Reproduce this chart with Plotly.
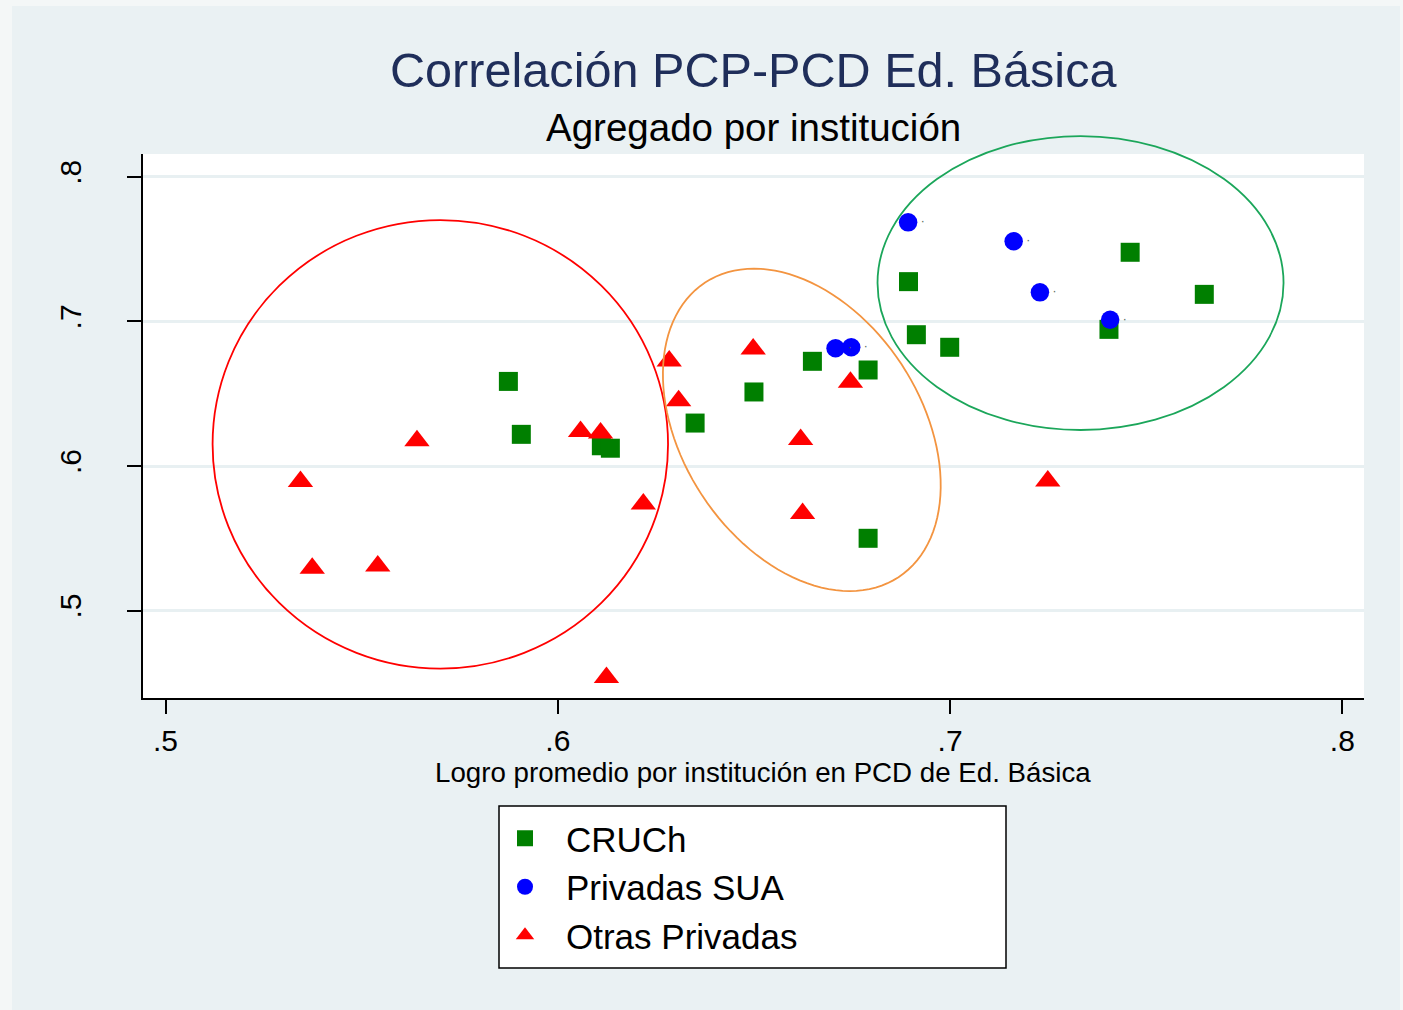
import numpy as np
import plotly.graph_objects as go

# ---------------- data ----------------
cruch_x = [0.5874, 0.5907, 0.6111, 0.6134, 0.6350, 0.6500, 0.6649, 0.6791, 0.6791,
           0.6894, 0.6914, 0.6999, 0.7405, 0.7459, 0.7648]
cruch_y = [0.6585, 0.6219, 0.6140, 0.6123, 0.6297, 0.6512, 0.6724, 0.6664, 0.5500,
           0.7275, 0.6908, 0.6821, 0.6945, 0.7478, 0.7187]

sua_x = [0.6893, 0.7162, 0.7229, 0.7408, 0.6708, 0.6748]
sua_y = [0.7685, 0.7554, 0.7201, 0.7012, 0.6814, 0.6821]

otras_x = [0.5344, 0.5374, 0.5541, 0.5641, 0.6058, 0.6109, 0.6218, 0.6124, 0.6284,
           0.6308, 0.6498, 0.6746, 0.6619, 0.6624, 0.7249]
otras_y = [0.5893, 0.5293, 0.5308, 0.6174, 0.6239, 0.6229, 0.5738, 0.4537, 0.6726,
           0.6452, 0.6810, 0.6580, 0.6183, 0.5671, 0.5897]

x_ticks = [0.5, 0.6, 0.7, 0.8]
x_tick_labels = [".5", ".6", ".7", ".8"]
y_ticks = [0.5, 0.6, 0.7, 0.8]
y_tick_labels = [".5", ".6", ".7", ".8"]

series_names = ["CRUCh", "Privadas SUA", "Otras Privadas"]

title_text = "Correlación PCP-PCD Ed. Básica"
subtitle_text = "Agregado por institución"
x_title_text = "Logro promedio por institución en PCD de Ed. Básica"

# ---------------- layout geometry ----------------
W, H = 1403, 1010
ML, MR, MT, MB = 143, 39, 154, 312
X_RANGE = [0.49426, 0.80551]
Y_RANGE = [0.43956, 0.81577]

FONT = "Liberation Sans, Arial, sans-serif"
BG = "#EAF1F3"
OUTER = "#F4F7F7"


def dx(v):
    return (v - X_RANGE[0]) / (X_RANGE[1] - X_RANGE[0])


def dy(v):
    return (v - Y_RANGE[0]) / (Y_RANGE[1] - Y_RANGE[0])


def pxx(p):
    return (p - ML) / (W - ML - MR)


def pxy(p):
    return (H - MB - p) / (H - MT - MB)


fig = go.Figure()

fig.add_trace(go.Scatter(
    x=cruch_x, y=cruch_y, mode="markers", name=series_names[0],
    marker=dict(symbol="square", size=19, color="#007F00", line=dict(width=0)),
))
fig.add_trace(go.Scatter(
    x=sua_x, y=sua_y, mode="markers+text", name=series_names[1],
    text=["·"] * len(sua_x), textposition="middle right",
    textfont=dict(size=12, color="#556655", family=FONT),
    marker=dict(symbol="circle", size=18.5, color="#0000FF", line=dict(width=0)),
))
fig.add_trace(go.Scatter(
    x=otras_x, y=otras_y, mode="markers", name=series_names[2],
    marker=dict(symbol="triangle-up", size=22, color="#FF0000", line=dict(width=0)),
))

shapes = []
# outer chart background panel
shapes.append(dict(type="rect", xref="paper", yref="paper", layer="below",
                   x0=pxx(12), x1=pxx(1400), y0=pxy(6), y1=pxy(1012),
                   fillcolor=BG, line=dict(width=0)))
# white plot region
shapes.append(dict(type="rect", xref="paper", yref="paper", layer="below",
                   x0=0, x1=1, y0=0, y1=1, fillcolor="white", line=dict(width=0)))

# red circle (data-unit bounds)
red_box = (0.5120, 0.6281, 0.4599, 0.7701)
shapes.append(dict(type="circle", xref="paper", yref="paper", layer="above",
                   x0=dx(red_box[0]), x1=dx(red_box[1]), y0=dy(red_box[2]), y1=dy(red_box[3]),
                   line=dict(color="#FF0000", width=1.8)))
# green ellipse
green_box = (0.6815, 0.7850, 0.6249, 0.8282)
shapes.append(dict(type="circle", xref="paper", yref="paper", layer="above",
                   x0=dx(green_box[0]), x1=dx(green_box[1]), y0=dy(green_box[2]), y1=dy(green_box[3]),
                   line=dict(color="#1BA65A", width=1.8)))
# orange rotated ellipse: centre + conjugate semi-axis vectors in data units
oc = (0.6622, 0.6250)
ou = (0.02465, -0.10187)
ov = (-0.02542, -0.04530)
t = np.linspace(0, 2 * np.pi, 121)
ex = oc[0] + ou[0] * np.cos(t) + ov[0] * np.sin(t)
ey = oc[1] + ou[1] * np.cos(t) + ov[1] * np.sin(t)
path = "M " + " L ".join(f"{dx(a):.5f},{dy(b):.5f}" for a, b in zip(ex, ey)) + " Z"
shapes.append(dict(type="path", xref="paper", yref="paper", layer="above", path=path,
                   line=dict(color="#F39440", width=1.8)))

# legend frame
shapes.append(dict(type="rect", xref="paper", yref="paper", layer="above",
                   x0=pxx(499), x1=pxx(1006), y0=pxy(968), y1=pxy(806),
                   fillcolor="rgba(0,0,0,0)", line=dict(color="black", width=1.5)))
shapes.append(dict(type="rect", xref="paper", yref="paper", layer="below",
                   x0=pxx(499), x1=pxx(1006), y0=pxy(968), y1=pxy(806),
                   fillcolor="white", line=dict(width=0)))

annotations = [
    dict(text=title_text, xref="paper", yref="paper", x=0.5, y=pxy(70),
         xanchor="center", yanchor="middle", showarrow=False,
         font=dict(family=FONT, size=48.6, color="#1F2E5A")),
    dict(text=subtitle_text, xref="paper", yref="paper", x=0.5, y=pxy(128),
         xanchor="center", yanchor="middle", showarrow=False,
         font=dict(family=FONT, size=38.5, color="black")),
    dict(text=x_title_text, xref="paper", yref="paper", x=pxx(762.5), y=pxy(772),
         xanchor="center", yanchor="middle", showarrow=False,
         font=dict(family=FONT, size=27.7, color="black")),
]

fig.update_layout(
    width=W, height=H,
    margin=dict(l=ML, r=MR, t=MT, b=MB, pad=0),
    paper_bgcolor=OUTER, plot_bgcolor="rgba(0,0,0,0)",
    font=dict(family=FONT, color="black"),
    shapes=shapes, annotations=annotations,
    showlegend=True,
    legend=dict(x=pxx(484), y=pxy(809), xanchor="left", yanchor="top",
                bgcolor="rgba(0,0,0,0)", borderwidth=0,
                font=dict(family=FONT, size=35, color="black"),
                itemwidth=72, tracegroupgap=0),
    xaxis=dict(range=X_RANGE, tickvals=x_ticks, ticktext=x_tick_labels,
               showgrid=False, zeroline=False, showline=True, linecolor="black",
               linewidth=1.5, ticks="outside", ticklen=14, tickwidth=1.5,
               tickcolor="black", ticklabelstandoff=1,
               tickfont=dict(family=FONT, size=30, color="black")),
    yaxis=dict(range=Y_RANGE, tickvals=y_ticks, ticktext=y_tick_labels,
               showgrid=True, gridcolor="#E8F0F2", gridwidth=3,
               zeroline=False, showline=True, linecolor="black",
               linewidth=1.5, ticks="outside", ticklen=14, tickwidth=1.5,
               tickcolor="black", tickangle=-90, ticklabelstandoff=34,
               tickfont=dict(family=FONT, size=30, color="black")),
)

fig.write_html("out.html", config={"displayModeBar": False},
               post_script="document.body.style.margin='0px';")
